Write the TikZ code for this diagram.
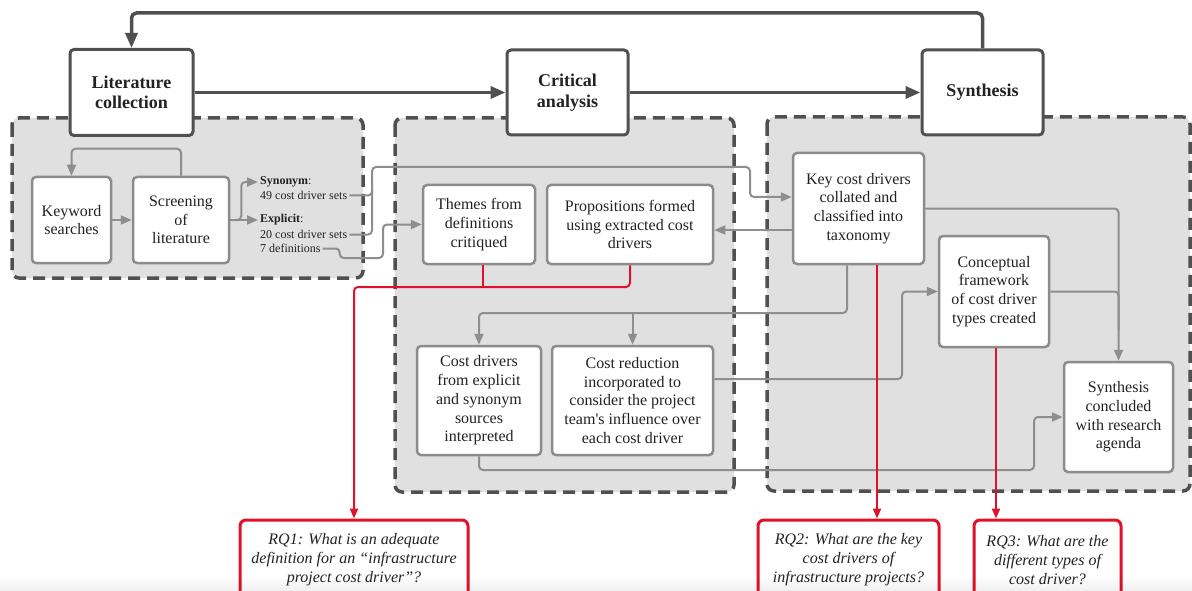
\documentclass[tikz,border=0pt]{standalone}
\usepackage{fontspec}
\setmainfont{Liberation Serif}
\usetikzlibrary{arrows.meta,calc}
\definecolor{hdr}{HTML}{505050}
\definecolor{bx}{HTML}{8C8C8C}
\definecolor{ln}{HTML}{8E8E8E}
\definecolor{pnl}{HTML}{E0E0E0}
\definecolor{rq}{HTML}{E0112B}
\definecolor{txt}{HTML}{222222}
\tikzset{
  header/.style={draw=hdr, line width=3pt, fill=white, rounded corners=4pt,
    font=\fontsize{18}{20.5}\selectfont\bfseries, align=center, inner sep=0pt, text=txt},
  box/.style={draw=bx, line width=2.5pt, fill=white, rounded corners=4pt,
    font=\fontsize{16}{18.7}\selectfont, align=center, inner sep=0pt, text=txt},
  small/.style={font=\fontsize{12}{13.5}\selectfont, inner sep=2pt, anchor=west, text=txt},
  panel/.style={draw=hdr, line width=3.5pt, dash pattern=on 12pt off 7pt, fill=pnl, rounded corners=7pt},
  mainarrow/.style={draw=hdr, line width=3.5pt, rounded corners=5pt, -{Triangle[length=15pt,width=12pt]}},
  conn/.style={draw=ln, line width=2pt, rounded corners=4pt, -{Triangle[length=11pt,width=9pt]}},
  plain/.style={draw=ln, line width=2pt, rounded corners=4pt},
  redc/.style={draw=rq, line width=2pt, rounded corners=4pt, -{Triangle[length=10pt,width=8pt]}},
  redp/.style={draw=rq, line width=2pt, rounded corners=4pt},
  rqbox/.style={draw=rq, line width=3pt, fill=white, rounded corners=6pt,
    font=\fontsize{16}{19}\selectfont\itshape, align=center, inner sep=0pt, text=txt},
}
\begin{document}
\begin{tikzpicture}[x=1pt,y=-1pt]
\useasboundingbox (0,0) rectangle (1192,591);
% panels
\draw[panel] (12,118) rectangle (363,278);
\draw[panel] (395,118) rectangle (734,492);
\draw[panel] (767,117) rectangle (1190,491);

% header boxes
\node[header, minimum width=123pt, minimum height=86pt] (lit) at (131.5,92.5) {Literature\\collection};
\node[header, minimum width=121pt, minimum height=85pt] (crit) at (567.5,92.5) {Critical\\analysis};
\node[header, minimum width=121pt, minimum height=85pt] (syn) at (982.5,92.5) {Synthesis};

\draw[mainarrow] (lit.east) -- (lit.east -| crit.west);
\draw[mainarrow] (crit.east |- lit.east) -- (syn.west |- lit.east);
\draw[mainarrow] (syn.north) -- (syn.north |- 0,13) -| (lit.north);

% left panel
\node[box, minimum width=79pt, minimum height=86pt] (kw) at (71.5,220) {Keyword\\searches};
\node[box, minimum width=96pt, minimum height=86pt] (scr) at (181,220) {Screening\\of\\literature};
\draw[conn] (kw) -- (scr);
\draw[conn] (scr.north) -- ++(0,-27) -| (kw.north);

\node[small] (synT) at (258,182) {\textbf{Synonym}:};
\node[small] (synN) at (258,195.5) {49 cost driver sets};
\node[small] (expT) at (258,220) {\textbf{Explicit}:};
\node[small] (expN) at (258,234.5) {20 cost driver sets};
\node[small] (defN) at (258,248.5) {7 definitions};
\draw[conn] (scr.east) -- ++(11,0) |- (synT.west);
\draw[conn] (scr.east) -- (expT.west);

% middle panel
\node[box, minimum width=112pt, minimum height=79pt] (themes) at (479,224.5) {Themes from\\definitions\\critiqued};
\node[box, minimum width=166pt, minimum height=79pt] (props) at (630,224.5) {Propositions formed\\using extracted cost\\drivers};
\node[box, minimum width=124pt, minimum height=109pt] (costd) at (479,400.5) {Cost drivers\\from explicit\\and synonym\\sources\\interpreted};
\node[box, minimum width=161pt, minimum height=109pt] (costr) at (632.5,400.5) {Cost reduction\\incorporated to\\consider the project\\team\textquotesingle s influence over\\each cost driver};

% right panel
\node[box, minimum width=131pt, minimum height=111pt] (key) at (858.5,208.5) {Key cost drivers\\collated and\\classified into\\taxonomy};
\node[box, minimum width=110pt, minimum height=111pt] (concept) at (994,291.5) {Conceptual\\framework\\of cost driver\\types created};
\node[box, minimum width=109pt, minimum height=110pt] (synth) at (1118.5,417) {Synthesis\\concluded\\with research\\agenda};

% connectors from the left labels
\draw[conn] (synN.east) -| (372,167) -| (750,197) -- (key.west |- 0,197);
\draw[plain] (expN.east) -| (372,190);
\draw[conn] (defN.east) -- ++(17,0) |- (383,258) |- (themes.west);

% connectors inside
\draw[conn] (key.west |- 0,230) -- (props.east |- 0,230);
\draw[conn] ([xshift=-11.5pt]key.south) |- (costd.north |- 0,313) -- (costd.north);
\draw[conn] (costr.north |- 0,313) -- (costr.north);
\draw[conn] (costr.east |- 0,379) -- (902,379) |- (concept.west);
\draw[conn] (costd.south) |- (1034,470) |- (synth.west);
\draw[conn] (key.east) -| (synth.north);
\draw[plain] (concept.east) -| (1118.5,330);

% RQ boxes
\node[rqbox, minimum width=228pt, minimum height=80pt] (rq1) at (354,560) {RQ1: What is an adequate\\definition for an “infrastructure\\project cost driver”?};
\node[rqbox, minimum width=181pt, minimum height=80pt] (rq2) at (848.5,560) {RQ2: What are the key\\cost drivers of\\infrastructure projects?};
\node[rqbox, minimum width=147pt, minimum height=80pt] (rq3) at (1047.5,560) {RQ3: What are the\\different types of\\cost driver?};

% red connectors
\draw[redp] ([xshift=4pt]themes.south) -- ([xshift=4pt]themes.south |- 0,287);
\draw[redc] (props.south) |- (rq1.north |- 0,287) -- (rq1.north);
\draw[redc] ([xshift=18.5pt]key.south) -- ([xshift=18.5pt]key.south |- rq2.north);
\draw[redc] ([xshift=2pt]concept.south) -- ([xshift=2pt]concept.south |- rq3.north);

% bottom fade
\foreach \i in {0,...,7} {
  \fill[black, opacity=0.008*\i] (0,575+2*\i) rectangle (1192,577+2*\i);
}
\end{tikzpicture}
\end{document}
